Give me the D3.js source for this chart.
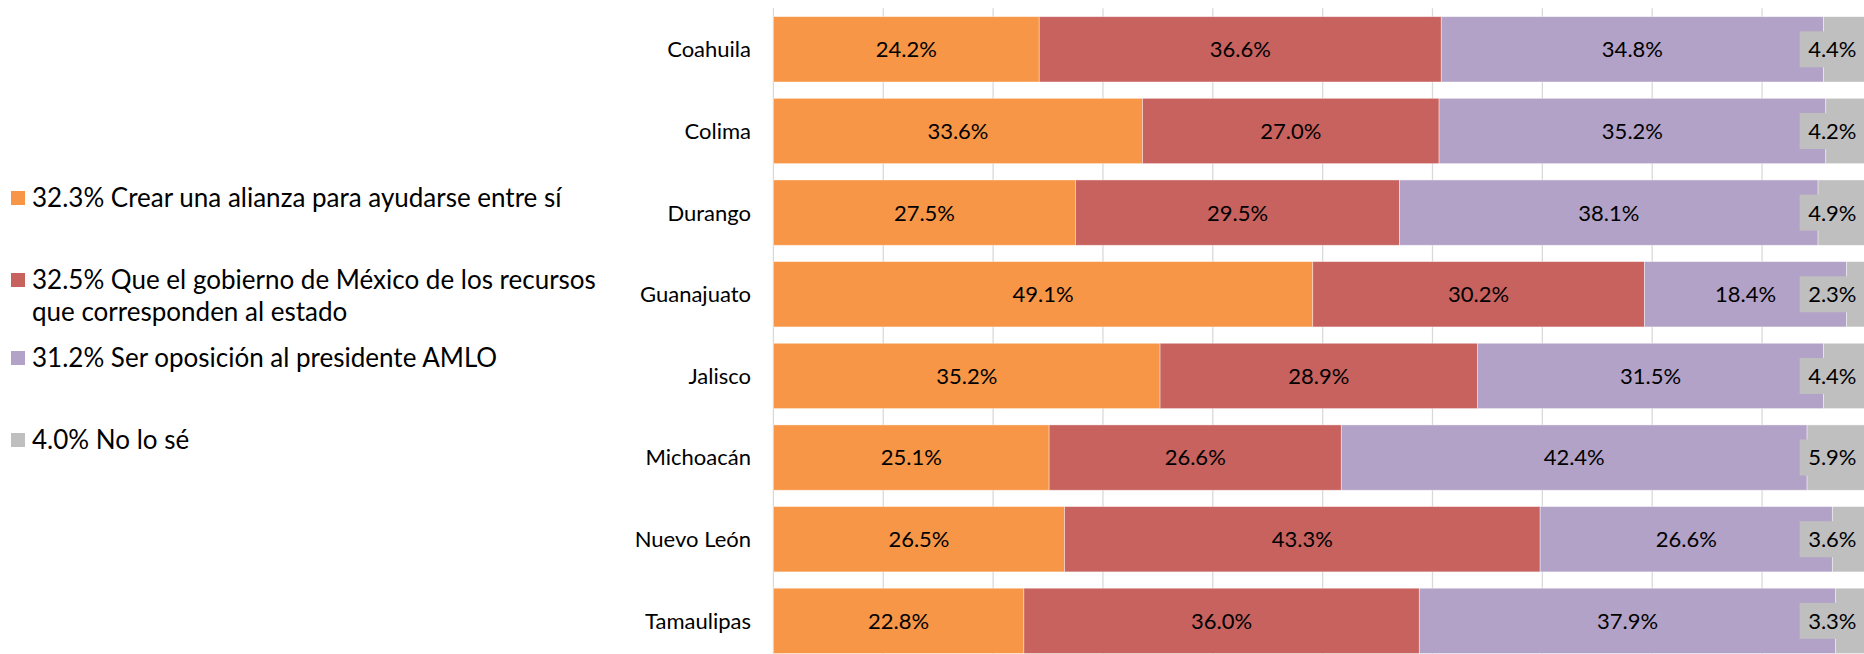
<!DOCTYPE html>
<html>
<head>
<meta charset="utf-8">
<script src="https://cdn.jsdelivr.net/npm/d3@7"></script>
<style>
  body { margin: 0; background: #fff; }
  svg { display: block; font-family: Lato, "Open Sans", sans-serif; }
</style>
</head>
<body>
<svg id="chart"></svg>
<script>
// data
var states = ["Coahuila", "Colima", "Durango", "Guanajuato", "Jalisco", "Michoacán", "Nuevo León", "Tamaulipas"];
var alianza   = [24.2, 33.6, 27.5, 49.1, 35.2, 25.1, 26.5, 22.8];
var recursos  = [36.6, 27.0, 29.5, 30.2, 28.9, 26.6, 43.3, 36.0];
var oposicion = [34.8, 35.2, 38.1, 18.4, 31.5, 42.4, 26.6, 37.9];
var nose      = [4.4, 4.2, 4.9, 2.3, 4.4, 5.9, 3.6, 3.3];

var seriesKeys = ["alianza", "recursos", "oposicion", "nose"];
var legendLines = [
    ["32.3% Crear una alianza para ayudarse entre sí"],
    ["32.5% Que el gobierno de México de los recursos", "que corresponden al estado"],
    ["31.2% Ser oposición al presidente AMLO"],
    ["4.0% No lo sé"]
];
var colors = ["#F79646", "#C8625F", "#B3A2C7", "#BFBFBF"];

var width = 1864, height = 654;
var fontSize = 22,
    legendFontSize = 26;

// rows built from the arrays for d3.stack
var rows = states.map(function(s, i) {
    return { state: s, alianza: alianza[i], recursos: recursos[i], oposicion: oposicion[i], nose: nose[i] };
});
var stacked = d3.stack().keys(seriesKeys)(rows);

var chart = d3.select('#chart')
    .attr('width', width)
    .attr('height', height);

// x goes a bit past the picture's right edge, like the original crop
var xScale = d3.scaleLinear()
    .domain([0, 100])
    .range([773.4, 1871.9]);

var yScale = d3.scaleBand()
    .domain(states)
    .range([8.5, 8.5 + 8 * 81.65])
    .paddingInner(0.2)
    .paddingOuter(0.1);

// vertical gridlines
chart.append('g')
    .attr('id', 'grid')
    .selectAll('line')
    .data(d3.range(0, 101, 10))
    .enter().append('line')
    .attr('x1', function(d) { return xScale(d); })
    .attr('x2', function(d) { return xScale(d); })
    .attr('y1', 8.3)
    .attr('y2', height + 20)
    .attr('stroke', '#d9d9d9')
    .attr('stroke-width', 1.3);

// bars
var layers = chart.append('g')
    .attr('id', 'bars')
    .selectAll('g')
    .data(stacked)
    .enter().append('g')
    .attr('fill', function(d, i) { return colors[i]; });

layers.selectAll('rect')
    .data(function(d) { return d; })
    .enter().append('rect')
    .attr('x', function(d) { return xScale(d[0]); })
    .attr('y', function(d) { return yScale(d.data.state); })
    .attr('width', function(d) { return xScale(d[1]) - xScale(d[0]); })
    .attr('height', yScale.bandwidth())
    .attr('stroke', '#fff')
    .attr('stroke-opacity', 0.5)
    .attr('stroke-width', 0.8);

// data labels
var labelRight = 1865;
var labels = chart.append('g').attr('id', 'labels');
stacked.forEach(function(layer, li) {
    layer.forEach(function(d) {
        var cx = (xScale(d[0]) + xScale(d[1])) / 2;
        var cy = yScale(d.data.state) + yScale.bandwidth() / 2;
        var txt = (d[1] - d[0]).toFixed(1) + '%';
        var g = labels.append('g');
        var t = g.append('text')
            .attr('y', cy)
            .attr('dy', '0.36em')
            .attr('text-anchor', 'middle')
            .attr('font-size', fontSize)
            .attr('fill', '#000')
            .text(txt);
        if (li === 3) {
            // last series: label sits in a grey box kept inside the plot
            var w = t.node().getComputedTextLength() + 17;
            cx = Math.min(cx, labelRight - w / 2);
            g.insert('rect', 'text')
                .attr('x', cx - w / 2)
                .attr('y', cy - 18)
                .attr('width', w)
                .attr('height', 36)
                .attr('fill', colors[3]);
        }
        t.attr('x', cx);
    });
});

// category axis labels
chart.append('g')
    .attr('id', 'y-axis')
    .selectAll('text')
    .data(states)
    .enter().append('text')
    .attr('x', 751)
    .attr('y', function(d) { return yScale(d) + yScale.bandwidth() / 2; })
    .attr('dy', '0.36em')
    .attr('text-anchor', 'end')
    .attr('font-size', fontSize)
    .attr('fill', '#000')
    .text(function(d) { return d; });

// legend on the left
var legendY = [198, 280, 358, 440];
var legend = chart.append('g').attr('id', 'legend');
legendLines.forEach(function(lines, i) {
    legend.append('rect')
        .attr('x', 11)
        .attr('y', legendY[i] - 7)
        .attr('width', 14)
        .attr('height', 14)
        .attr('fill', colors[i]);
    lines.forEach(function(line, j) {
        legend.append('text')
            .attr('x', 32)
            .attr('y', legendY[i] + j * 32)
            .attr('dy', '0.36em')
            .attr('font-size', legendFontSize)
            .attr('fill', '#000')
            .text(line);
    });
});
</script>
</body>
</html>
